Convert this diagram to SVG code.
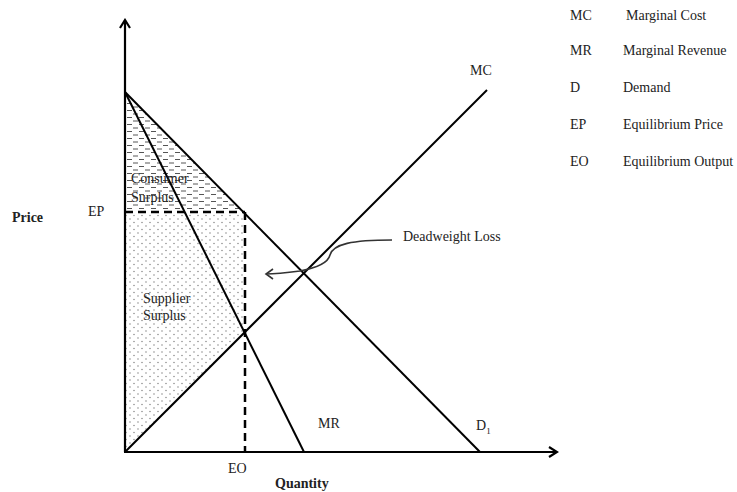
<svg xmlns="http://www.w3.org/2000/svg" width="737" height="492" viewBox="0 0 737 492">
<style>
text{font-family:"Liberation Serif","Times New Roman",serif;fill:#222;font-size:14px}
.b{font-weight:bold}
.ln{stroke:#000;stroke-width:2;fill:none}
.dsh{stroke:#000;stroke-width:2.5;fill:none;stroke-dasharray:8,5}
.ax{stroke:#000;stroke-width:2.2;fill:none}
</style>
<defs>
<pattern id="dots" width="8" height="7" patternUnits="userSpaceOnUse">
<circle cx="2" cy="2" r="0.7" fill="#777"/>
<circle cx="6" cy="5.5" r="0.7" fill="#777"/>
</pattern>
<pattern id="dashes" width="12" height="7" patternUnits="userSpaceOnUse">
<line x1="1" y1="2" x2="6" y2="2" stroke="#555" stroke-width="1"/>
<line x1="7" y1="5.5" x2="12" y2="5.5" stroke="#555" stroke-width="1"/>
</pattern>
<marker id="chev" markerWidth="12" markerHeight="12" refX="10" refY="6" orient="auto" markerUnits="userSpaceOnUse">
<path d="M2,1 L10,6 L2,11" fill="none" stroke="#000" stroke-width="2.2"/>
</marker>
<marker id="chevs" markerWidth="12" markerHeight="12" refX="10" refY="6" orient="auto" markerUnits="userSpaceOnUse">
<path d="M3,1 L10,6 L3,11" fill="none" stroke="#333" stroke-width="1.6"/>
</marker>
</defs>

<g id="areas">
<polygon id="consumer-surplus" points="125,93 243,211 125,211" fill="url(#dashes)"/>
<polygon id="supplier-surplus" points="125,213 245,213 245,332 125,452" fill="url(#dots)"/>
</g>

<g id="connectors">
<line id="y-axis" class="ax" x1="125" y1="452" x2="125" y2="20" marker-end="url(#chev)"/>
<line id="x-axis" class="ax" x1="124" y1="452" x2="557" y2="452" marker-end="url(#chev)"/>
<line id="demand" class="ln" x1="125" y1="92" x2="480" y2="452"/>
<line id="mr" class="ln" x1="125" y1="92" x2="304" y2="452"/>
<line id="mc" class="ln" x1="125" y1="452" x2="487" y2="90"/>
<line id="ep-line" class="dsh" x1="125" y1="212" x2="245" y2="212"/>
<line id="eo-line" class="dsh" x1="245" y1="212" x2="245" y2="452"/>
<path id="dwl-arrow" d="M392,240 C352,240 333,244 330,255 C328,263 316,268 300,271 C285,273 276,274 266,274" fill="none" stroke="#333" stroke-width="1.6" marker-end="url(#chevs)"/>
</g>

<g id="labels">
<text x="470" y="75">MC</text>
<text class="b" x="12" y="222">Price</text>
<text x="88" y="216">EP</text>
<text x="228" y="473">EO</text>
<text class="b" x="275" y="488">Quantity</text>
<text x="318" y="428">MR</text>
<text x="476" y="430">D<tspan font-size="9" dy="4">1</tspan></text>
<text x="403" y="241">Deadweight Loss</text>
<text x="131" y="183" font-size="13">Consumer</text>
<text x="131" y="202" font-size="13">Surplus</text>
<text x="143" y="303" font-size="13">Supplier</text>
<text x="143" y="320" font-size="13">Surplus</text>
</g>

<g id="legend">
<text x="570" y="20">MC</text><text x="626" y="20">Marginal Cost</text>
<text x="570" y="55">MR</text><text x="623" y="55">Marginal Revenue</text>
<text x="570" y="92">D</text><text x="623" y="92">Demand</text>
<text x="570" y="129">EP</text><text x="623" y="129">Equilibrium Price</text>
<text x="570" y="166">EO</text><text x="623" y="166">Equilibrium Output</text>
</g>
</svg>
